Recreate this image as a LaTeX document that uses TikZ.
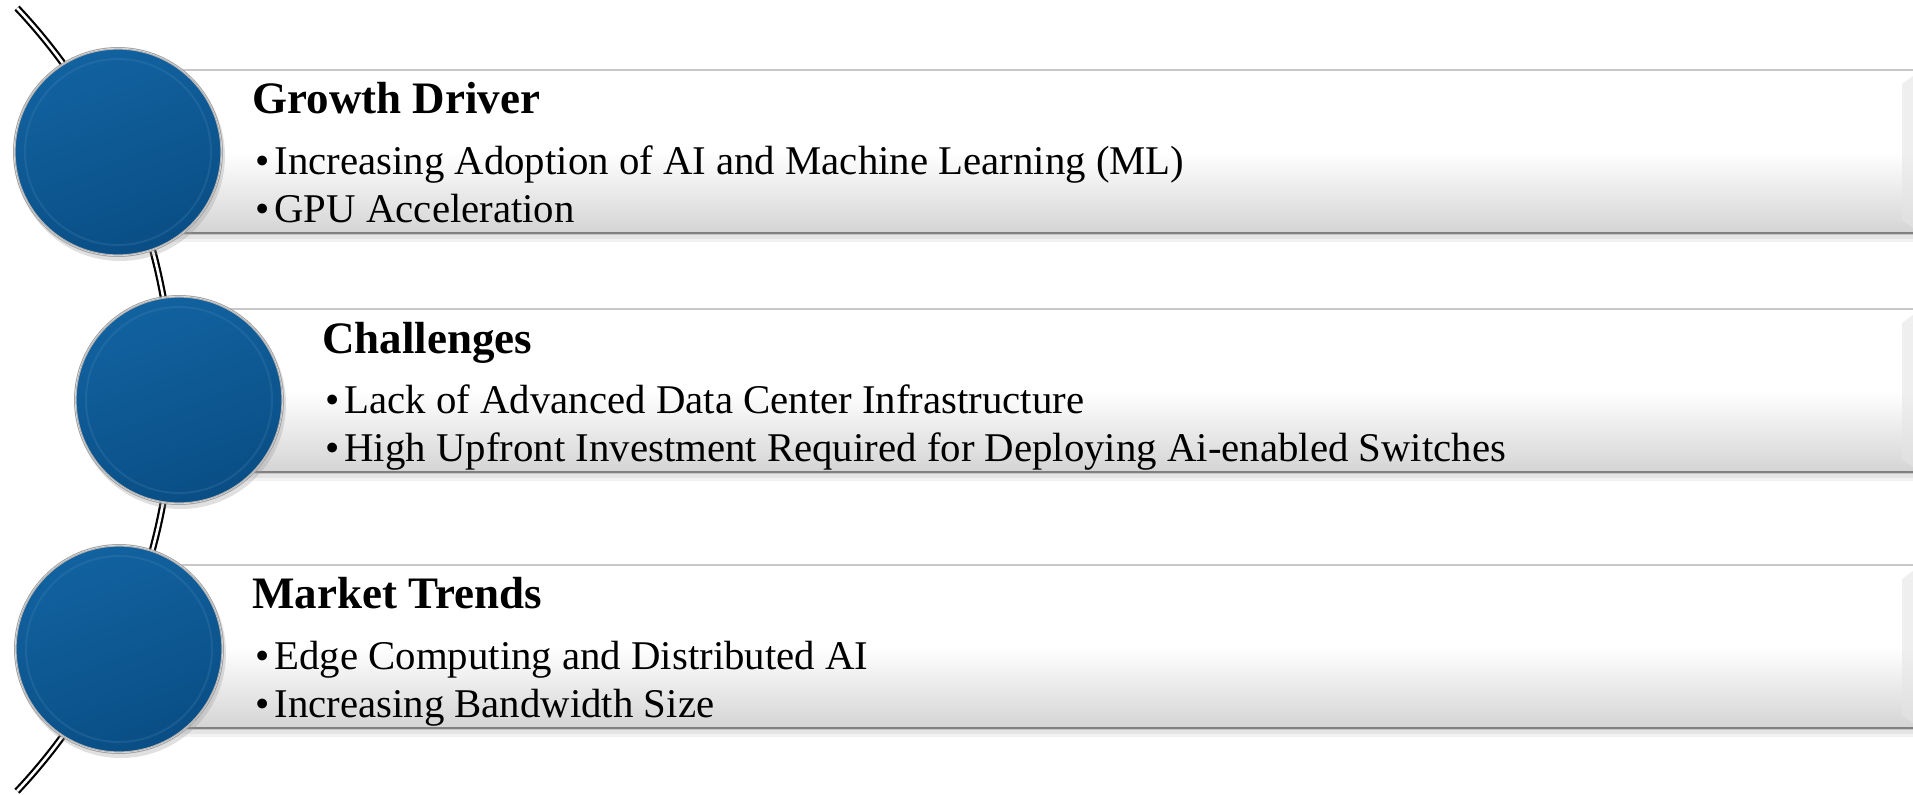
\documentclass[tikz,border=0pt]{standalone}
\usepackage{fontspec}
\setmainfont{Liberation Serif}
\definecolor{balltop}{RGB}{18,98,160}
\definecolor{ballbot}{RGB}{9,78,133}
\definecolor{barline}{RGB}{200,200,200}
\definecolor{barbot}{RGB}{128,128,128}
\tikzset{
  barbox/.style={top color=white, bottom color=black!17, middle color=white, draw=barline, line width=1.2pt},
  ball/.style={circle, inner sep=0pt, minimum size=103pt, shading=axis, top color=balltop, bottom color=ballbot, shading angle=20, draw=black!30, line width=0.6pt},
  ttl/.style={anchor=base west, font=\fontsize{22.5}{24}\selectfont\bfseries, inner sep=0pt},
  itm/.style={anchor=base west, font=\fontsize{20.4}{22}\selectfont, inner sep=0pt},
  arcline/.style={draw=black, double=white, line width=1.1pt, double distance=1.3pt}
}
\newcommand{\bul}{•\hspace{0.12em}}
\begin{document}
\begin{tikzpicture}[x=0.5pt,y=-0.5pt]
\useasboundingbox (0,0) rectangle (1913,794);
% arc (big circle centre at (-399,400), radius 571)
\coordinate (arcS) at (17,8);
\draw[arcline] (arcS) arc[start angle=-43.3, end angle=43.3, radius=571];
% bars
\foreach \t/\x/\n in {70/118/1, 309/179/2, 565/119/3}{
  \fill[black!30, opacity=0.35] (\x,\t+164) rectangle (1913,\t+169);
  \fill[black!20, opacity=0.25] (\x,\t+169) rectangle (1913,\t+172);
  \shade[barbox] (\x,\t) rectangle (1916,\t+164);
  \draw[barbot, line width=1.3pt] (\x,\t+163) -- (1913,\t+163);
  \fill[black!10, opacity=0.6] (1902,\t+14) -- (1913,\t+6) -- (1913,\t+158) -- (1902,\t+150) -- cycle;
}
% balls
\foreach \cx/\cy/\n in {118/152/A, 179/400/B, 119/649/C}{
  \fill[black!40, opacity=0.3] (\cx+2,\cy+4) circle (105);
  \fill[white] (\cx,\cy) circle (104);
  \draw[black!35, line width=0.5pt] (\cx,\cy) circle (104.5);
  \node[ball] (ball\n) at (\cx,\cy) {};
  \draw[balltop!70!white, opacity=0.2, line width=1pt] (\cx,\cy) circle (93);
}
% texts
\node[ttl] (t1) at (252,113) {Growth Driver};
\node[itm] (a1) at (255,174) {\bul Increasing Adoption of AI and Machine Learning (ML)};
\node[itm] (a2) at (255,222) {\bul GPU Acceleration};
\node[ttl] (t2) at (322,353) {Challenges};
\node[itm] (b1) at (325,413) {\bul Lack of Advanced Data Center Infrastructure};
\node[itm] (b2) at (325,461) {\bul High Upfront Investment Required for Deploying Ai-enabled Switches};
\node[ttl] (t3) at (252,608) {Market Trends};
\node[itm] (c1) at (255,669) {\bul Edge Computing and Distributed AI};
\node[itm] (c2) at (255,717) {\bul Increasing Bandwidth Size};
\end{tikzpicture}
\end{document}
